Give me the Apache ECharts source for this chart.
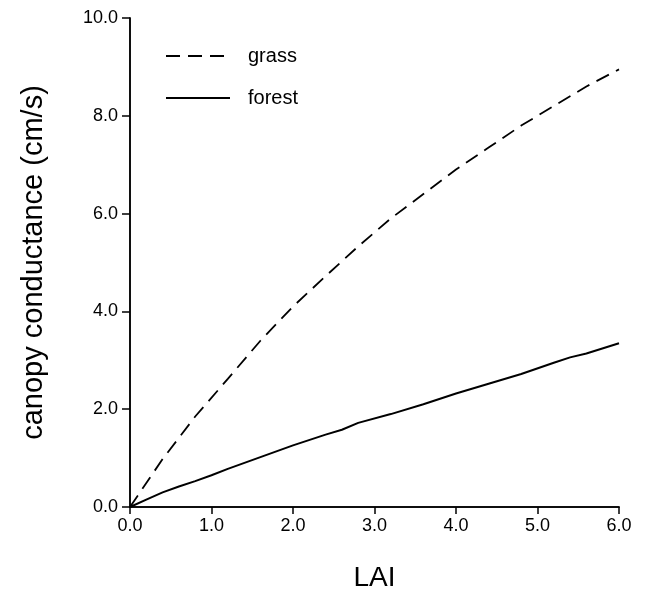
<!DOCTYPE html>
<html>
<head>
<meta charset="utf-8">
<script src="https://cdn.jsdelivr.net/npm/echarts@6/dist/echarts.min.js"></script>
<style>html,body{margin:0;padding:0;background:#fff}#c{width:649px;height:591px}</style>
</head>
<body>
<div id="c"></div>
<script>
const xTicks = ['0.0','1.0','2.0','3.0','4.0','5.0','6.0'];
const yTicks = ['0.0','2.0','4.0','6.0','8.0','10.0'];
const grassLAI = [0, 0.4, 0.8, 1.2, 1.6, 2.0, 2.4, 2.8, 3.2, 3.6, 4.0, 4.4, 4.8, 5.2, 5.6, 6.0];
const grassG   = [0, 0.98, 1.85, 2.62, 3.4, 4.1, 4.72, 5.33, 5.9, 6.4, 6.9, 7.35, 7.8, 8.2, 8.6, 8.95];
const forestLAI = [0, 0.2, 0.4, 0.6, 0.8, 1.0, 1.2, 1.6, 2.0, 2.4, 2.6, 2.8, 3.2, 3.6, 4.0, 4.4, 4.8, 5.2, 5.4, 5.6, 6.0];
const forestG   = [0, 0.15, 0.3, 0.42, 0.53, 0.65, 0.78, 1.02, 1.26, 1.48, 1.58, 1.72, 1.9, 2.1, 2.32, 2.52, 2.72, 2.95, 3.06, 3.14, 3.35];

const font = 'Liberation Sans';
const chart = echarts.init(document.getElementById('c'));
const lineAx = {show: true, lineStyle: {color: '#000', width: 1.5}};
chart.setOption({
  animation: false,
  grid: {left: 130, right: 30, top: 18, bottom: 84, containLabel: false, outerBoundsMode: 'none'},
  legend: {
    orient: 'vertical', left: 160, top: 41, itemWidth: 64, itemHeight: 14, itemGap: 22,
    itemStyle: {opacity: 0},
    textStyle: {fontFamily: font, fontSize: 20, color: '#000', padding: [0, 0, 0, 13]},
    data: ['grass', 'forest']
  },
  xAxis: [{
    type: 'value', min: 0, max: 6, interval: 1,
    axisLine: lineAx, splitLine: {show: false},
    axisTick: {show: true, length: 7, lineStyle: {color: '#000', width: 1.5}},
    axisLabel: {fontFamily: font, fontSize: 18, color: '#000', margin: 10,
      formatter: v => xTicks[Math.round(v)]},
    name: 'LAI', nameLocation: 'middle', nameGap: 57,
    nameTextStyle: {fontFamily: font, fontSize: 28, color: '#000'}
  }, {
    type: 'value', position: 'top', min: 0, max: 6, interval: 1,
    axisLine: lineAx, axisTick: {show: false}, axisLabel: {show: false}, splitLine: {show: false}
  }],
  yAxis: [{
    type: 'value', min: 0, max: 10, interval: 2,
    axisLine: lineAx, splitLine: {show: false},
    axisTick: {show: true, length: 8, lineStyle: {color: '#000', width: 1.5}},
    axisLabel: {fontFamily: font, fontSize: 18, color: '#000', margin: 12,
      formatter: v => yTicks[Math.round(v / 2)]},
    name: 'canopy conductance (cm/s)', nameLocation: 'middle', nameGap: 82,
    nameTextStyle: {fontFamily: font, fontSize: 29, color: '#000'}
  }, {
    type: 'value', position: 'right', min: 0, max: 10, interval: 2,
    axisLine: lineAx, axisTick: {show: false}, axisLabel: {show: false}, splitLine: {show: false}
  }],
  series: [{
    name: 'grass', type: 'line', symbol: 'none', color: '#000',
    lineStyle: {color: '#000', width: 1.8, type: [14, 8]},
    data: grassLAI.map((x, i) => [x, grassG[i]])
  }, {
    name: 'forest', type: 'line', symbol: 'none', color: '#000',
    lineStyle: {color: '#000', width: 2},
    data: forestLAI.map((x, i) => [x, forestG[i]])
  }]
});
</script>
</body>
</html>
